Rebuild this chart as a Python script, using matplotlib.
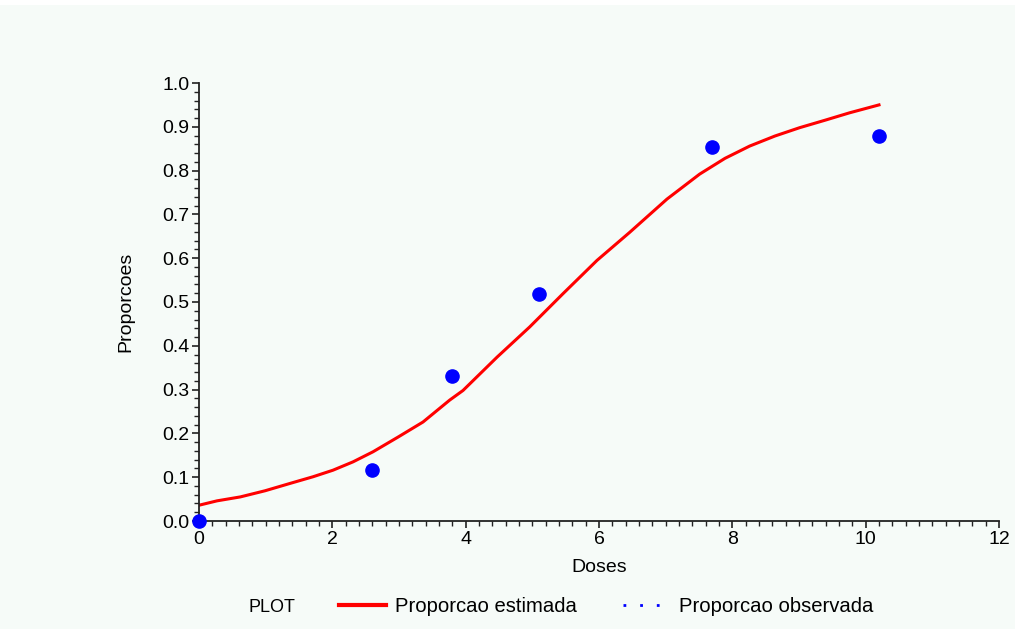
import matplotlib
matplotlib.use("Agg")
import matplotlib.pyplot as plt
from matplotlib.lines import Line2D
from matplotlib.patches import Rectangle
from matplotlib.ticker import MultipleLocator, FormatStrFormatter

# observed proportions
doses = [0.0, 2.6, 3.8, 5.1, 7.7, 10.2]
prop_obs = [0.0, 0.116, 0.331, 0.519, 0.855, 0.878]

# fitted curve
dose_fit = [0.0, 0.27, 0.62, 0.99, 1.37, 1.71, 2.01, 2.31, 2.61, 2.99, 3.36,
            3.76, 3.96, 4.47, 4.96, 5.46, 5.97, 6.46, 7.02, 7.51, 7.89,
            8.26, 8.64, 9.01, 9.39, 9.76, 10.2]
prop_fit = [0.036, 0.046, 0.055, 0.069, 0.086, 0.101, 0.116, 0.135, 0.158,
            0.192, 0.226, 0.276, 0.298, 0.374, 0.443, 0.519, 0.595, 0.659,
            0.735, 0.792, 0.828, 0.856, 0.879, 0.898, 0.915, 0.932, 0.950]

BG = '#f6fbf8'
plt.rcParams['font.family'] = ['Liberation Sans', 'DejaVu Sans']

fig = plt.figure(figsize=(10.15, 6.29), dpi=100, facecolor=BG)
fig.patches.append(Rectangle((0, 1 - 5 / 629), 1, 5 / 629, transform=fig.transFigure,
                             facecolor='white', edgecolor='none', zorder=0))

ax = fig.add_axes([199 / 1015, 108 / 629, 800 / 1015, 438 / 629])
ax.set_facecolor(BG)

ax.plot(dose_fit, prop_fit, color='#ff0000', lw=2.2, zorder=2)
ax.plot(doses, prop_obs, 'o', color='#0000ff', ms=9.5, zorder=3, clip_on=False)

ax.set_xlim(0, 12)
ax.set_ylim(0, 1)
ax.xaxis.set_major_locator(MultipleLocator(2))
ax.xaxis.set_minor_locator(MultipleLocator(0.2))
ax.yaxis.set_major_locator(MultipleLocator(0.1))
ax.yaxis.set_minor_locator(MultipleLocator(0.02))
ax.yaxis.set_major_formatter(FormatStrFormatter('%.1f'))

for s in ['top', 'right']:
    ax.spines[s].set_visible(False)
for s in ['left', 'bottom']:
    ax.spines[s].set_linewidth(1.3)
    ax.spines[s].set_color('#222222')

ax.tick_params(which='major', direction='out', length=5, width=1.2,
               labelsize=14, color='#222222', pad=2)
ax.tick_params(which='minor', direction='out', length=3.5, width=1.0,
               color='#222222')

ax.set_xlabel('Doses', fontsize=14, labelpad=8)
ax.set_ylabel('Proporcoes', fontsize=14, labelpad=20)

# legend row at the bottom
fig.text(248 / 1015, 1 - 607 / 629, 'PLOT', fontsize=13, va='center', ha='left')
handles = [Line2D([], [], color='#ff0000', lw=3),
           Line2D([], [], color='#0000ff', lw=2, ls=(0, (1, 5)))]
fig.legend(handles, ['Proporcao estimada', 'Proporcao observada'],
           loc='center left', bbox_to_anchor=(325 / 1015, 1 - 607 / 629),
           ncol=2, frameon=False, fontsize=14.6, handlelength=2.3,
           handletextpad=0.45, columnspacing=2.3, borderpad=0.2)

fig.savefig('out.png', dpi=100, facecolor=BG)
